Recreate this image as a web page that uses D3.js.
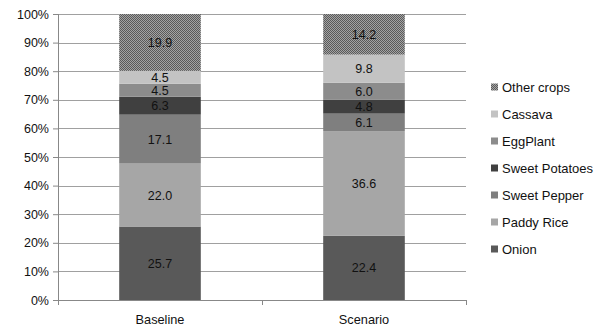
<!DOCTYPE html>
<html>
<head>
<meta charset="utf-8">
<script src="https://cdn.jsdelivr.net/npm/d3@7"></script>
<style>
  html, body { margin: 0; padding: 0; background: #fff; }
  svg { display: block; font-family: "Liberation Sans", Arial, sans-serif; }
</style>
</head>
<body>
<svg id="chart" width="602" height="328"></svg>
<script>
// Crop share (%) of each scenario, stacked bottom to top
const scenarios = ["Baseline", "Scenario"];
const crops = ["Onion", "Paddy Rice", "Sweet Pepper", "Sweet Potatoes", "EggPlant", "Cassava", "Other crops"];
const baselineValues = [25.7, 22.0, 17.1, 6.3, 4.5, 4.5, 19.9];
const scenarioValues = [22.4, 36.6, 6.1, 4.8, 6.0, 9.8, 14.2];
const yTicks = [0, 10, 20, 30, 40, 50, 60, 70, 80, 90, 100];

const cropColors = ["#595959", "#a6a6a6", "#7f7f7f", "#404040", "#8c8c8c", "#c3c3c3", "url(#dots)"];

const svg = d3.select("#chart");
const margin = { left: 58, right: 136, top: 14, bottom: 28 };
const W = 602, H = 328;
const innerW = W - margin.left - margin.right;
const innerH = H - margin.top - margin.bottom;

// dotted fill used for "Other crops"
const defs = svg.append("defs");
const pat = defs.append("pattern").attr("id", "dots")
  .attr("patternUnits", "userSpaceOnUse").attr("width", 2).attr("height", 2);
pat.append("rect").attr("width", 2).attr("height", 2).attr("fill", "#a4a4a4");
pat.append("rect").attr("width", 1).attr("height", 1).attr("fill", "#5a5a5a");
pat.append("rect").attr("x", 1).attr("y", 1).attr("width", 1).attr("height", 1).attr("fill", "#5a5a5a");

const rows = scenarios.map((s, i) => {
  const vals = i === 0 ? baselineValues : scenarioValues;
  const total = d3.sum(vals);
  const r = { scenario: s };
  crops.forEach((c, j) => { r[c] = vals[j] / total * 100; r[c + "_raw"] = vals[j]; });
  return r;
});

const stack = d3.stack().keys(crops);
const series = stack(rows);

const x = d3.scaleBand().domain(scenarios).range([0, innerW]).paddingInner(0.6).paddingOuter(0.3);
const y = d3.scaleLinear().domain([0, 100]).range([innerH, 0]);

const g = svg.append("g").attr("transform", `translate(${margin.left},${margin.top})`);

// horizontal gridlines
g.append("g").selectAll("line").data(yTicks.filter(t => t > 0)).join("line")
  .attr("x1", 0).attr("x2", innerW)
  .attr("y1", d => Math.round(y(d)) + 0.5).attr("y2", d => Math.round(y(d)) + 0.5)
  .attr("stroke", "#a0a0a0").attr("stroke-width", 1);

// bars
const layer = g.append("g").selectAll("g").data(series).join("g")
  .attr("fill", (d, i) => cropColors[i]);
layer.selectAll("rect").data(d => d.map(v => ({ v, key: d.key }))).join("rect")
  .attr("x", d => x(d.v.data.scenario))
  .attr("width", x.bandwidth())
  .attr("y", d => y(d.v[1]))
  .attr("height", d => y(d.v[0]) - y(d.v[1]));

// value labels
g.append("g").selectAll("g").data(series).join("g")
  .selectAll("text").data(d => d.map(v => ({ v, key: d.key }))).join("text")
  .attr("x", d => x(d.v.data.scenario) + x.bandwidth() / 2)
  .attr("y", d => (y(d.v[0]) + y(d.v[1])) / 2)
  .attr("dy", "0.36em")
  .attr("text-anchor", "middle")
  .attr("font-size", 12.5)
  .attr("fill", "#111")
  .text(d => d.v.data[d.key + "_raw"].toFixed(1));

// y axis
const yAxis = g.append("g")
  .call(d3.axisLeft(y).tickValues(yTicks).tickFormat(d => d + "%").tickSize(5).tickPadding(4));
yAxis.select(".domain").attr("stroke", "#888").attr("d", `M0.5,0V${innerH}`);
yAxis.selectAll(".tick line").attr("stroke", "#888");
yAxis.selectAll("text").attr("font-size", 12.5).attr("fill", "#111")
  .attr("font-family", "Liberation Sans, Arial, sans-serif");

// category axis with ticks between categories
const xg = g.append("g").attr("transform", `translate(0,${innerH})`);
xg.append("line").attr("x1", 0).attr("x2", innerW).attr("y1", 0.5).attr("y2", 0.5).attr("stroke", "#888");
const bounds = [0, innerW / 2, innerW];
xg.selectAll("line.tk").data(bounds).join("line").attr("class", "tk")
  .attr("x1", d => Math.round(d) + 0.5).attr("x2", d => Math.round(d) + 0.5)
  .attr("y1", 0).attr("y2", 5).attr("stroke", "#888");
xg.selectAll("text").data(scenarios).join("text")
  .attr("x", d => x(d) + x.bandwidth() / 2)
  .attr("y", 24)
  .attr("text-anchor", "middle")
  .attr("font-size", 12.75)
  .attr("fill", "#111")
  .text(d => d);

// legend, listed top to bottom in reverse stacking order
const legendItems = crops.map((c, i) => ({ c, color: cropColors[i] })).reverse();
const lg = svg.append("g").attr("transform", "translate(491,87)");
const item = lg.selectAll("g").data(legendItems).join("g")
  .attr("transform", (d, i) => `translate(0,${i * 27})`);
item.append("rect").attr("x", 0).attr("y", -3.5).attr("width", 7).attr("height", 7)
  .attr("fill", d => d.color);
item.append("text").attr("x", 11).attr("y", 0).attr("dy", "0.36em")
  .attr("font-size", 13).attr("fill", "#111").text(d => d.c);
</script>
</body>
</html>
